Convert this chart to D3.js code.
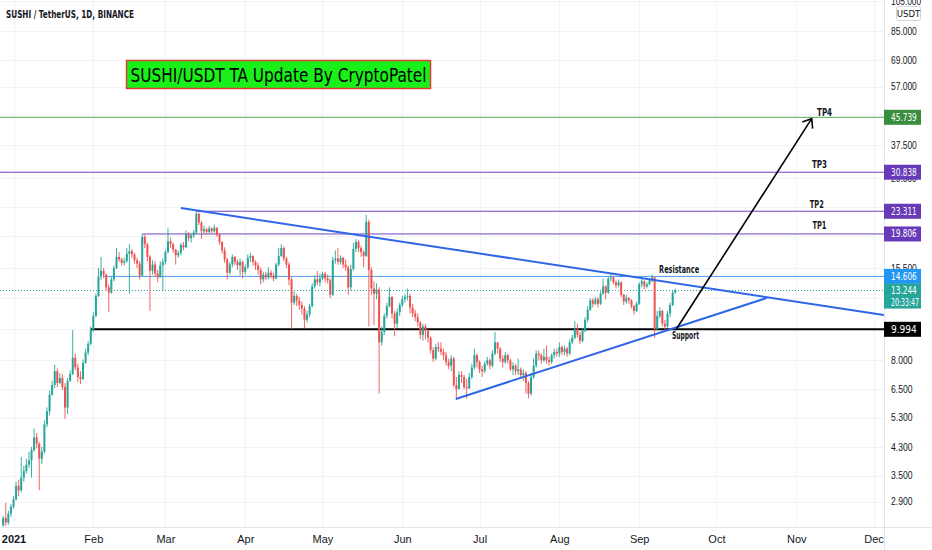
<!DOCTYPE html>
<html>
<head>
<meta charset="utf-8">
<script src="https://cdnjs.cloudflare.com/ajax/libs/d3/7.8.5/d3.min.js"></script>
<style>
  html, body { margin: 0; padding: 0; background: #fff; }
  svg { display: block; font-family: "Liberation Sans Narrow", "DejaVu Sans Condensed", Roboto, sans-serif; }
</style>
</head>
<body>
<div id="chart"></div>
<script>
var svgWidth = 932;
var svgHeight = 550;
var plotRight = 884;
var plotBottom = 527;

// daily candles, first one on 2020-12-28, open of each day = previous close
var firstDay = "2020-12-28";
var firstOpen = 2.45;

var closes = [
  // Dec 28-31
  2.58, 2.50, 2.66, 2.80,
  // Jan
  2.95, 3.25, 3.15, 3.45, 3.62, 3.78, 3.90, 4.20, 4.60, 4.40, 3.95, 4.15, 5.05, 5.55, 6.25, 6.70,
  7.40, 6.80, 7.05, 6.60, 5.70, 6.90, 7.25, 8.15, 7.60, 7.10, 7.00, 7.85, 8.45, 9.00, 9.95,
  // Feb
  11.00, 12.70, 14.60, 15.20, 14.80, 13.50, 13.00, 14.30, 15.50, 16.80, 16.50, 16.10, 16.30, 17.20,
  17.50, 17.10, 16.40, 16.00, 14.70, 19.40, 18.40, 16.80, 15.20, 15.90, 14.90, 14.50, 15.80, 16.20,
  // Mar
  17.40, 18.80, 18.40, 17.70, 17.00, 17.30, 18.30, 18.00, 19.80, 19.20, 19.60, 20.00, 22.90, 21.50,
  20.20, 20.50, 20.10, 20.60, 20.20, 20.70, 19.70, 18.70, 17.60, 16.50, 15.00, 15.90, 16.80, 16.20,
  15.80, 16.20, 15.10,
  // Apr
  15.60, 16.70, 16.90, 16.20, 15.80, 15.30, 14.30, 14.80, 14.50, 15.00, 14.70, 14.40, 15.90, 16.90,
  17.90, 16.60, 15.90, 14.30, 12.10, 12.70, 12.30, 11.90, 11.60, 10.70, 11.10, 11.80, 13.60, 14.30,
  14.00, 14.40,
  // May
  14.90, 14.40, 14.20, 12.80, 16.40, 16.60, 16.20, 16.70, 15.90, 15.60, 13.50, 15.40, 17.80, 18.70,
  17.90, 17.40, 16.90, 21.60, 15.30, 13.40, 12.90, 13.30, 9.10, 9.80, 11.00, 11.80, 12.60, 11.20,
  10.40, 11.30, 11.90,
  // Jun
  12.40, 12.60, 12.70, 11.70, 11.20, 10.90, 10.50, 9.60, 10.20, 9.90, 9.40, 8.60, 8.10, 8.80,
  8.70, 8.50, 8.30, 7.90, 7.70, 8.10, 6.70, 6.50, 7.20, 7.10, 6.60, 6.55, 7.10, 7.60, 8.30, 7.90,
  // Jul
  7.50, 7.40, 7.80, 8.00, 7.70, 8.40, 9.10, 8.70, 8.10, 7.90, 8.30, 8.00, 7.50, 7.70, 7.40, 7.50,
  7.20, 7.30, 6.80, 6.30, 7.10, 7.70, 8.40, 8.30, 8.00, 8.20, 8.00, 7.90, 8.30, 8.50, 8.40,
  // Aug
  8.80, 8.50, 8.70, 8.40, 9.10, 9.40, 10.00, 9.60, 9.20, 9.90, 10.70, 11.50, 12.30, 12.00, 12.40,
  12.00, 12.90, 13.60, 13.00, 14.40, 14.50, 14.00, 13.70, 14.00, 12.80, 12.20, 12.50, 12.30, 11.80,
  11.40, 12.00,
  // Sep 1-15
  13.80, 14.10, 13.60, 13.80, 14.20, 14.50, 10.00, 11.00, 11.40, 10.40, 10.20, 11.20, 11.90, 13.00, 13.244
];

var highs = [
  2.62, 2.88, 2.72, 2.85,
  3.02, 3.35, 3.40, 4.00, 3.75, 3.95, 4.15, 4.30, 4.90, 4.75, 4.45, 4.30, 5.20, 5.70, 6.45, 6.90,
  7.75, 7.55, 7.30, 7.25, 6.80, 7.05, 7.45, 9.95, 8.40, 7.80, 7.40, 8.05, 8.70, 9.20, 10.20,
  11.30, 12.90, 15.50, 16.80, 15.50, 14.90, 13.80, 14.60, 15.80, 17.90, 17.40, 16.70, 16.70, 17.90,
  18.40, 17.80, 17.30, 16.70, 16.30, 19.806, 19.70, 18.60, 17.00, 16.40, 16.30, 15.30, 16.30, 16.60,
  17.70, 20.60, 19.30, 18.60, 17.80, 17.60, 18.60, 18.70, 20.30, 20.10, 19.90, 20.40, 23.311, 23.10,
  21.70, 21.00, 20.70, 21.00, 20.80, 21.20, 20.80, 19.90, 18.80, 18.00, 16.70, 16.20, 17.10, 16.90,
  16.50, 16.60, 16.40,
  15.90, 17.10, 17.30, 17.00, 16.40, 16.10, 15.60, 15.10, 15.10, 15.60, 15.30, 15.00, 16.10, 17.90,
  18.40, 18.10, 16.80, 16.20, 14.50, 13.10, 12.90, 12.60, 12.20, 11.80, 11.40, 12.00, 13.90, 14.70,
  15.20, 14.90,
  15.10, 15.10, 14.80, 14.40, 16.80, 17.60, 17.90, 17.00, 16.80, 16.50, 15.80, 15.90, 18.60, 19.10,
  19.00, 18.20, 17.60, 22.70, 21.90, 15.60, 14.10, 13.90, 13.50, 10.20, 11.20, 12.10, 13.50, 12.70,
  11.40, 11.60, 12.10,
  12.70, 12.90, 13.40, 12.90, 12.00, 11.50, 11.20, 10.60, 10.40, 10.40, 10.00, 9.50, 8.80, 9.00,
  9.10, 9.10, 8.70, 8.50, 8.10, 8.30, 8.20, 7.10, 7.40, 7.40, 7.20, 7.00, 7.30, 7.80, 8.70, 8.40,
  8.00, 7.70, 7.95, 8.20, 8.10, 8.60, 9.80, 9.10, 8.80, 8.30, 8.50, 8.40, 8.10, 7.90, 7.80, 8.10,
  7.60, 7.50, 7.40, 6.90, 7.30, 8.10, 8.60, 8.60, 8.40, 8.70, 8.90, 8.20, 8.40, 8.70, 8.70,
  9.10, 8.90, 8.90, 8.80, 9.30, 9.60, 10.60, 10.40, 9.80, 10.10, 10.90, 11.80, 12.50, 12.50, 12.60,
  12.60, 13.10, 14.40, 13.70, 14.60, 14.90, 14.70, 14.20, 14.30, 14.10, 12.90, 12.80, 12.60, 12.40,
  11.90, 12.20,
  14.00, 14.40, 14.20, 14.00, 14.40, 14.80, 14.60, 11.40, 11.70, 11.50, 10.70, 11.40, 12.10, 13.20, 13.40
];

var lows = [
  2.40, 2.44, 2.46, 2.60,
  2.76, 2.92, 3.02, 3.10, 3.35, 3.55, 3.70, 3.45, 4.15, 4.25, 3.15, 3.80, 4.10, 4.95, 5.40, 6.20,
  6.55, 6.60, 6.75, 6.45, 5.25, 5.45, 6.85, 7.20, 7.45, 6.85, 6.75, 6.95, 7.80, 8.30, 8.90,
  9.80, 10.90, 12.60, 14.20, 14.40, 13.20, 11.30, 12.90, 14.10, 15.40, 16.20, 15.80, 15.80, 16.10,
  12.90, 16.70, 16.00, 15.50, 14.30, 14.60, 17.90, 16.30, 11.40, 14.80, 14.60, 14.00, 14.50, 13.20,
  15.90, 17.20, 17.90, 17.30, 15.90, 16.70, 17.00, 17.60, 17.90, 18.80, 18.60, 19.30, 19.80, 21.10,
  19.10, 19.80, 19.70, 19.90, 19.90, 20.00, 19.40, 18.30, 17.20, 16.10, 14.30, 14.80, 15.60, 15.80,
  15.30, 14.70, 14.40,
  14.80, 15.40, 16.20, 15.80, 15.30, 14.80, 13.80, 14.00, 14.20, 14.30, 14.40, 14.10, 14.30, 15.70,
  16.80, 16.30, 15.50, 13.70, 10.00, 11.90, 11.80, 11.50, 11.10, 10.05, 10.50, 10.90, 11.70, 13.40,
  13.70, 13.60,
  14.20, 14.00, 13.90, 12.50, 12.70, 16.00, 15.90, 15.90, 15.50, 15.20, 12.80, 13.20, 15.20, 17.40,
  17.40, 16.80, 15.60, 16.80, 10.20, 12.80, 10.30, 12.40, 6.30, 8.90, 9.60, 10.80, 11.70, 10.80,
  9.50, 10.10, 11.00,
  11.70, 12.10, 12.30, 11.20, 10.90, 10.60, 10.20, 9.30, 9.20, 9.30, 9.10, 8.40, 7.90, 8.00,
  8.50, 8.30, 8.00, 7.70, 7.50, 7.40, 6.60, 6.10, 6.60, 6.80, 6.50, 6.08, 6.50, 7.00, 7.50, 7.60,
  7.30, 7.10, 7.30, 7.70, 7.50, 7.60, 8.30, 8.40, 7.90, 7.60, 7.80, 7.80, 7.40, 7.20, 7.20, 7.20,
  7.00, 6.90, 6.30, 6.10, 6.20, 7.00, 7.60, 8.00, 7.80, 7.90, 7.80, 7.70, 7.80, 8.10, 8.20,
  8.20, 8.30, 8.30, 8.20, 8.30, 9.00, 9.30, 9.40, 9.00, 9.10, 9.80, 10.50, 11.40, 11.70, 11.90,
  11.70, 11.90, 12.80, 12.40, 12.90, 14.10, 13.80, 13.40, 13.50, 12.60, 11.90, 12.00, 12.00, 11.60,
  11.10, 11.30,
  11.90, 13.50, 13.30, 13.40, 13.70, 14.00, 9.40, 9.90, 10.80, 10.20, 9.85, 10.10, 10.90, 11.80, 12.90
];

// price scale ticks (log scale); the ones fully under a level tag are not labelled
var priceTicks = [105, 85, 69, 57, 47, 37.5, 29.5, 24, 19.5, 15.5, 12.5, 10, 8, 6.5, 5.3, 4.3, 3.5, 2.9];
var priceTickLabels = [105, 85, 69, 57, 37.5, 29.5, 15.5, 8, 6.5, 5.3, 4.3, 3.5, 2.9];

// horizontal levels: price and the day each line starts
var levelPrices = [45.739, 30.838, 23.311, 19.806, 14.606, 9.994];
var levelStarts = ["2020-12-20", "2020-12-20", "2021-03-13", "2021-02-20", "2021-02-05", "2021-01-31"];

var lastPrice = 13.244;
var countdown = "20:33:47";

// trend lines [start, end] as date / price
var resistanceLine = [{date: "2021-03-07", price: 23.86}, {date: "2021-12-05", price: 11.07}];
var supportLine = [{date: "2021-06-21T18:00Z", price: 6.06}, {date: "2021-10-20T12:00Z", price: 12.51}];
var targetArrow = [{date: "2021-09-15T14:00Z", price: 10.05}, {date: "2021-11-07", price: 45.3}];

// annotation texts
var noteTexts = ["TP4", "TP3", "TP2", "TP1", "Resistance", "Support"];
var noteDates = ["2021-11-12", "2021-11-10", "2021-11-09", "2021-11-10", "2021-09-16T12:00Z", "2021-09-19"];
var notePrices = [47.5, 32.7, 24.4, 21.1, 15.3, 9.57];

var headerText = "SUSHI / TetherUS, 1D, BINANCE";
var titleText = "SUSHI/USDT TA Update By CryptoPatel";

// ---- build candles
var DAY = 86400000;
var t0 = new Date(firstDay + "T00:00Z").getTime();
var candles = closes.map(function(c, i) {
  return {
    date: new Date(t0 + i * DAY),
    open: i ? closes[i - 1] : firstOpen,
    high: highs[i],
    low: lows[i],
    close: c
  };
});

// ---- scales
var x = d3.scaleUtc()
  .domain([new Date(Date.UTC(2021, 0, 1)), new Date(Date.UTC(2021, 11, 1))])
  .range([13.5, 873.5]);

var y = d3.scaleLog()
  .domain([9.994, 45.739])
  .range([329.3, 117.3]);

var svg = d3.select("#chart")
  .append("svg")
  .attr("width", svgWidth)
  .attr("height", svgHeight);

svg.append("defs").append("clipPath")
  .attr("id", "plot-clip")
  .append("rect")
  .attr("width", plotRight)
  .attr("height", plotBottom);

// ---- grid
var monthTicks = d3.utcMonth.range(new Date(Date.UTC(2021, 0, 1)), new Date(Date.UTC(2021, 11, 2)));

var grid = svg.append("g").attr("clip-path", "url(#plot-clip)");

grid.selectAll(".vgrid")
  .data(monthTicks)
  .enter()
  .append("line")
  .attr("x1", d => Math.round(x(d)) + 0.5)
  .attr("x2", d => Math.round(x(d)) + 0.5)
  .attr("y1", 0)
  .attr("y2", plotBottom)
  .attr("stroke", "#f0f3fa");

grid.selectAll(".hgrid")
  .data(priceTicks)
  .enter()
  .append("line")
  .attr("x1", 0)
  .attr("x2", plotRight)
  .attr("y1", d => Math.round(y(d)) + 0.5)
  .attr("y2", d => Math.round(y(d)) + 0.5)
  .attr("stroke", "#f0f3fa");

var plot = svg.append("g").attr("clip-path", "url(#plot-clip)");

// ---- horizontal levels
var levelColors = ["#4caf50", "#6f42c1", "#6f42c1", "#6f42c1", "#4a9cf0", "#000000"];
var levelWidths = [1, 1, 1, 1, 1, 2];

plot.selectAll(".level")
  .data(levelPrices)
  .enter()
  .append("line")
  .attr("x1", (d, i) => x(new Date(levelStarts[i] + "T00:00Z")))
  .attr("x2", plotRight)
  .attr("y1", d => y(d))
  .attr("y2", d => y(d))
  .attr("stroke", (d, i) => levelColors[i])
  .attr("stroke-width", (d, i) => levelWidths[i]);

// last price dotted line
plot.append("line")
  .attr("x1", 0)
  .attr("x2", plotRight)
  .attr("y1", Math.round(y(lastPrice)) + 0.5)
  .attr("y2", Math.round(y(lastPrice)) + 0.5)
  .attr("stroke", "#26a69a")
  .attr("stroke-width", 1)
  .attr("stroke-dasharray", "1,2");

// ---- candles
var up = "#26a69a", down = "#ef5350";
var colorOf = d => d.close >= d.open ? up : down;

plot.selectAll(".wick")
  .data(candles)
  .enter()
  .append("line")
  .attr("x1", d => x(d.date))
  .attr("x2", d => x(d.date))
  .attr("y1", d => y(d.high))
  .attr("y2", d => y(d.low))
  .attr("stroke", colorOf)
  .attr("stroke-width", 0.9);

plot.selectAll(".body")
  .data(candles)
  .enter()
  .append("rect")
  .attr("x", d => x(d.date) - 1)
  .attr("width", 2)
  .attr("y", d => y(Math.max(d.open, d.close)))
  .attr("height", d => Math.max(1, Math.abs(y(d.open) - y(d.close))))
  .attr("fill", colorOf);

// ---- trend lines
var pt = p => [x(new Date(p.date.length > 10 ? p.date : p.date + "T00:00Z")), y(p.price)];
var lineGen = d3.line();

[resistanceLine, supportLine].forEach(function(seg) {
  plot.append("path")
    .attr("d", lineGen(seg.map(pt)))
    .attr("fill", "none")
    .attr("stroke", "#2f66e8")
    .attr("stroke-width", 2);
});

// target arrow
var a0 = pt(targetArrow[0]), a1 = pt(targetArrow[1]);
var ang = Math.atan2(a1[1] - a0[1], a1[0] - a0[0]);
var headLen = 10, headAng = 38 * Math.PI / 180;
plot.append("path")
  .attr("d", lineGen([a0, a1]))
  .attr("fill", "none")
  .attr("stroke", "#000")
  .attr("stroke-width", 1.6);
plot.append("path")
  .attr("d", lineGen([
    [a1[0] - headLen * Math.cos(ang - headAng), a1[1] - headLen * Math.sin(ang - headAng)],
    a1,
    [a1[0] - headLen * Math.cos(ang + headAng), a1[1] - headLen * Math.sin(ang + headAng)]
  ]))
  .attr("fill", "none")
  .attr("stroke", "#000")
  .attr("stroke-width", 1.6);

// annotation texts
var noteWidths = [15, 15, 14, 14, 40, 27];
plot.selectAll(".note")
  .data(noteTexts)
  .enter()
  .append("text")
  .attr("x", (d, i) => pt({date: noteDates[i], price: notePrices[i]})[0])
  .attr("y", (d, i) => pt({date: noteDates[i], price: notePrices[i]})[1])
  .attr("text-anchor", "middle")
  .attr("dominant-baseline", "central")
  .attr("font-size", 10)
  .attr("font-weight", 700)
  .attr("fill", "#131722")
  .attr("textLength", (d, i) => noteWidths[i])
  .attr("lengthAdjust", "spacingAndGlyphs")
  .text(d => d);

// ---- header + title box
svg.append("text")
  .attr("x", 6)
  .attr("y", 14)
  .attr("dominant-baseline", "central")
  .attr("font-size", 10.5)
  .attr("font-weight", 700)
  .attr("fill", "#131722")
  .attr("textLength", 128)
  .attr("lengthAdjust", "spacingAndGlyphs")
  .text(headerText);

svg.append("rect")
  .attr("x", 126.5)
  .attr("y", 60.5)
  .attr("width", 304)
  .attr("height", 28)
  .attr("fill", "#19f019")
  .attr("stroke", "#e53935")
  .attr("stroke-width", 1.5);

svg.append("text")
  .attr("x", 278.5)
  .attr("y", 75)
  .attr("text-anchor", "middle")
  .attr("dominant-baseline", "central")
  .attr("font-size", 19)
  .attr("fill", "#000")
  .attr("textLength", 296)
  .attr("lengthAdjust", "spacingAndGlyphs")
  .text(titleText);

// ---- axes frame
svg.append("line")
  .attr("x1", plotRight + 0.5).attr("x2", plotRight + 0.5)
  .attr("y1", 0).attr("y2", svgHeight)
  .attr("stroke", "#e0e3eb");
svg.append("line")
  .attr("x1", 0).attr("x2", svgWidth)
  .attr("y1", plotBottom + 0.5).attr("y2", plotBottom + 0.5)
  .attr("stroke", "#e0e3eb");

// time axis
var timeAxis = svg.append("g")
  .attr("transform", `translate(0, ${plotBottom})`)
  .call(d3.axisBottom(x)
    .tickValues(monthTicks)
    .tickSize(0)
    .tickPadding(8)
    .tickFormat(d => d.getUTCMonth() === 0 ? "2021" : d3.utcFormat("%b")(d)));
timeAxis.select(".domain").remove();
timeAxis.selectAll("text")
  .attr("font-size", 11)
  .attr("fill", "#131722")
  .attr("font-weight", d => d.getUTCMonth() === 0 ? 700 : 400);

// price axis
var charW = 4.3;
var priceAxis = svg.append("g")
  .attr("transform", `translate(${plotRight}, 0)`)
  .call(d3.axisRight(y)
    .tickValues(priceTickLabels)
    .tickSize(0)
    .tickPadding(7)
    .tickFormat(d => d.toFixed(3)));
priceAxis.select(".domain").remove();
priceAxis.selectAll("text")
  .attr("font-size", 10)
  .attr("fill", "#131722")
  .attr("textLength", d => d.toFixed(3).length * charW)
  .attr("lengthAdjust", "spacingAndGlyphs");

// price label boxes
var boxColors = ["#388e3c", "#673ab7", "#673ab7", "#673ab7", "#2196f3", "#000000"];
var boxes = svg.append("g");

function boxText(txt, yy, w) {
  boxes.append("text")
    .attr("x", plotRight + 7)
    .attr("y", yy)
    .attr("dominant-baseline", "central")
    .attr("font-size", 10)
    .attr("fill", "#fff")
    .attr("textLength", w)
    .attr("lengthAdjust", "spacingAndGlyphs")
    .text(txt);
}

levelPrices.forEach(function(p, i) {
  var cy = y(p);
  boxes.append("rect")
    .attr("x", plotRight)
    .attr("y", cy - 7.5)
    .attr("width", 37)
    .attr("height", 15)
    .attr("fill", boxColors[i]);
  boxText(p.toFixed(3), cy, 6 * charW);
});

var lpY = y(lastPrice);
boxes.append("rect")
  .attr("x", plotRight)
  .attr("y", lpY - 6.5)
  .attr("width", 37)
  .attr("height", 25)
  .attr("fill", "#26a69a");
boxText(lastPrice.toFixed(3), lpY, 6 * charW);
boxText(countdown, lpY + 12, 28);

// currency tag
svg.append("rect")
  .attr("x", 896.5)
  .attr("y", 6.5)
  .attr("width", 24)
  .attr("height", 14)
  .attr("rx", 2)
  .attr("fill", "#fff")
  .attr("stroke", "#d1d4dc");
svg.append("text")
  .attr("x", 908.5)
  .attr("y", 13.5)
  .attr("text-anchor", "middle")
  .attr("dominant-baseline", "central")
  .attr("font-size", 9.5)
  .attr("fill", "#131722")
  .text("USDT");
</script>
</body>
</html>
